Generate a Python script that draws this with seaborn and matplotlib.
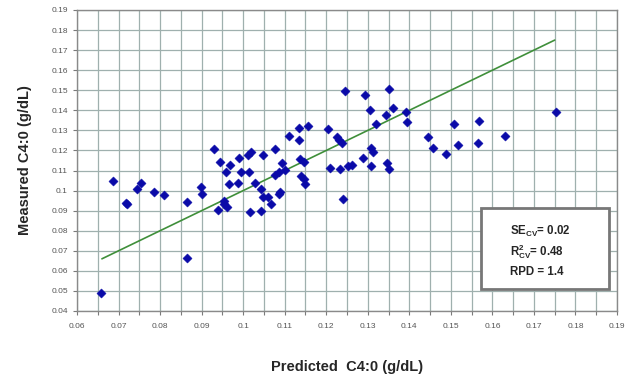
import matplotlib
matplotlib.use("Agg")
import matplotlib.pyplot as plt
import seaborn as sns
import pandas as pd
from matplotlib.ticker import MultipleLocator, FormatStrFormatter

# predicted vs measured C4:0 (g/dL)
predicted = [0.0658, 0.0687, 0.0717, 0.0721, 0.0745, 0.0755, 0.0785, 0.0810, 0.0865, 0.0865,
             0.0898, 0.0900, 0.0929, 0.0940, 0.0945, 0.0953, 0.0955, 0.0961, 0.0958, 0.0966,
             0.0968, 0.0987, 0.0989, 0.0995, 0.1011, 0.1019, 0.1015, 0.1017, 0.1028, 0.1043,
             0.1043, 0.1047, 0.1048, 0.1061, 0.1066, 0.1077, 0.1076, 0.1086, 0.1101, 0.1086,
             0.1089, 0.1094, 0.1110, 0.1134, 0.1134, 0.1156, 0.1138, 0.1147, 0.1139, 0.1147,
             0.1150, 0.1204, 0.1209, 0.1225, 0.1231, 0.1238, 0.1233, 0.1245, 0.1240, 0.1253,
             0.1261, 0.1289, 0.1293, 0.1305, 0.1307, 0.1313, 0.1307, 0.1320, 0.1344, 0.1352,
             0.1360, 0.1346, 0.1352, 0.1392, 0.1394, 0.1444, 0.1456, 0.1488, 0.1508, 0.1517,
             0.1565, 0.1568, 0.1630, 0.1752]
measured = [0.0490, 0.1050, 0.0937, 0.0932, 0.1010, 0.1040, 0.0995, 0.0977, 0.0942, 0.0664,
            0.1017, 0.0983, 0.1207, 0.0905, 0.1143, 0.0950, 0.0933, 0.0917, 0.1091, 0.1033,
            0.1126, 0.1040, 0.1163, 0.1093, 0.1178, 0.1191, 0.1093, 0.0895, 0.1036, 0.1008,
            0.0898, 0.1176, 0.0967, 0.0970, 0.0935, 0.1207, 0.1076, 0.1093, 0.1104, 0.0982,
            0.0995, 0.1136, 0.1274, 0.1311, 0.1251, 0.1322, 0.1159, 0.1143, 0.1073, 0.1060,
            0.1035, 0.1305, 0.1111, 0.1269, 0.1252, 0.1236, 0.1108, 0.1496, 0.0958, 0.1122,
            0.1128, 0.1164, 0.1477, 0.1402, 0.1211, 0.1194, 0.1123, 0.1332, 0.1377, 0.1506,
            0.1413, 0.1139, 0.1108, 0.1393, 0.1340, 0.1269, 0.1214, 0.1181, 0.1332, 0.1227,
            0.1239, 0.1347, 0.1274, 0.1393]

# 1:1 reference line
line_x = [0.066, 0.175]
line_y = [0.066, 0.175]

stats_text = [r"SE$_{\mathbf{CV}}$= 0.02",
              r"R$^{\mathbf{2}}_{\mathbf{CV}}$= 0.48",
              "RPD = 1.4"]

df = pd.DataFrame({"predicted": predicted, "measured": measured})

sns.set_style("white")
plt.rcParams["font.family"] = ["Liberation Sans", "DejaVu Sans"]
plt.rcParams["mathtext.fontset"] = "custom"
plt.rcParams["mathtext.rm"] = "Liberation Sans:bold"
plt.rcParams["mathtext.bf"] = "Liberation Sans:bold"

fig = plt.figure(figsize=(6.32, 3.83), dpi=100)
ax = fig.add_axes([0.1218, 0.188, 0.8545, 0.7859])

grid_col = "#9fb0ae"
ax.xaxis.set_major_locator(MultipleLocator(0.01))
ax.xaxis.set_minor_locator(MultipleLocator(0.005))
ax.yaxis.set_major_locator(MultipleLocator(0.01))
ax.xaxis.set_major_formatter(FormatStrFormatter("%g"))
ax.yaxis.set_major_formatter(FormatStrFormatter("%g"))
ax.grid(True, which="both", axis="x", color=grid_col, lw=0.9)
ax.grid(True, which="major", axis="y", color=grid_col, lw=0.9)
ax.set_axisbelow(True)

sns.lineplot(x=line_x, y=line_y, ax=ax, color="#3f8f3a", lw=1.2, zorder=2)
sns.scatterplot(data=df, x="predicted", y="measured", ax=ax, marker="D", s=22,
                color="#0a0aa8", edgecolor="#0a0aa8", linewidth=0.3, zorder=3)

ax.set_xlim(0.06, 0.19)
ax.set_ylim(0.04, 0.19)

for s in ax.spines.values():
    s.set_color("#8a8a8a")
    s.set_linewidth(1.0)
ax.tick_params(which="both", direction="out", length=3, width=0.8, color="#7a7a7a",
               labelsize=6, labelcolor="#555555", bottom=True, left=True)
ax.tick_params(which="major", axis="x", pad=6)

ax.set_xlabel("Predicted  C4:0 (g/dL)", fontsize=10.5, fontweight="bold", labelpad=21)
ax.set_ylabel("Measured C4:0 (g/dL)", fontsize=10.5, fontweight="bold", labelpad=14)

# stats box
box = plt.Rectangle((0.748, 0.073), 0.237, 0.269, transform=ax.transAxes,
                    facecolor="white", edgecolor="#777777", lw=2, zorder=4)
ax.add_patch(box)
for i, t in enumerate(stats_text):
    ax.text(0.801, 0.265 - i * 0.068, t, transform=ax.transAxes, fontsize=8.3,
            fontweight="bold", va="center", ha="left", zorder=5)

fig.savefig("out.png", dpi=100)
